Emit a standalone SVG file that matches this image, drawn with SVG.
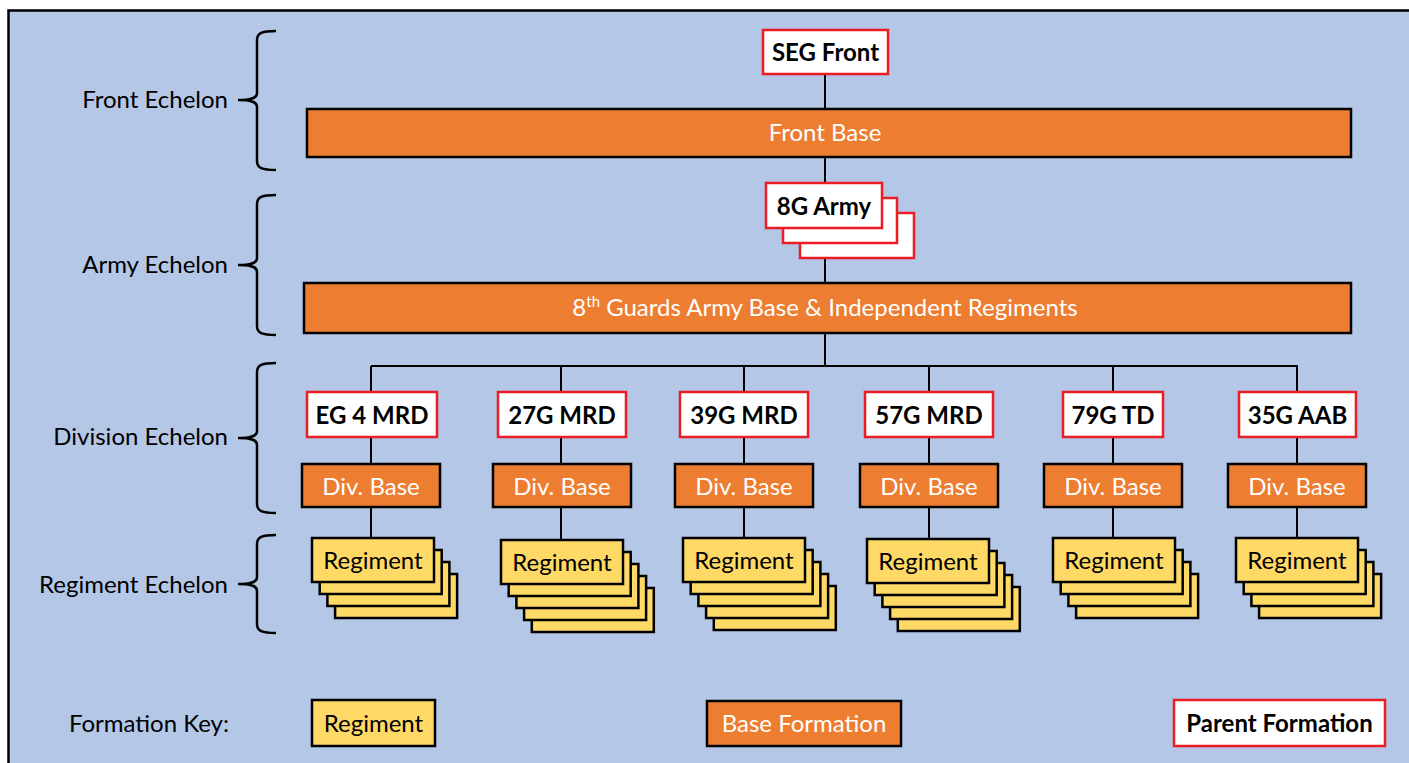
<svg xmlns="http://www.w3.org/2000/svg" width="1409" height="763" viewBox="0 0 1409 763">
<style>
text{font-family:Lato,"Open Sans","Liberation Sans",sans-serif;font-size:24px;}
.lbl{text-anchor:end;fill:#000;}
.c{text-anchor:middle;}
.w{fill:#fff;}
.b{font-weight:bold;fill:#000;}
.parent{fill:#fff;stroke:#EB1C24;stroke-width:2.5;}
.base{fill:#ED7D31;stroke:#000;stroke-width:2.5;}
.reg{fill:#FFD966;stroke:#000;stroke-width:2.5;}
.brace{fill:none;stroke:#000;stroke-width:2.5;}
.conn{fill:none;stroke:#000;stroke-width:2;}
</style>
<rect x="0" y="0" width="1409" height="763" fill="#fff"/>
<rect x="8.5" y="10.5" width="1420" height="780" fill="#B4C7E7" stroke="#000" stroke-width="2.5"/>

<g id="braces">
<path class="brace" d="M276,31 C262,31 257,33 257,40 L257,93 C257,97 254,100 238,100 C254,100 257,103 257,107 L257,161 C257,168 262,170 276,170"/>
<path class="brace" d="M276,195 C262,195 257,197 257,204 L257,258 C257,262 254,265 238,265 C254,265 257,268 257,272 L257,326 C257,333 262,335 276,335"/>
<path class="brace" d="M276,363 C262,363 257,365 257,372 L257,431 C257,435 254,438 238,438 C254,438 257,441 257,445 L257,504 C257,511 262,513 276,513"/>
<path class="brace" d="M276,535 C262,535 257,537 257,544 L257,577 C257,581 254,584 238,584 C254,584 257,587 257,591 L257,624 C257,631 262,633 276,633"/>
</g>
<g id="labels">
<text class="lbl" x="228" y="108">Front Echelon</text>
<text class="lbl" x="228" y="273">Army Echelon</text>
<text class="lbl" x="228" y="445">Division Echelon</text>
<text class="lbl" x="228" y="593">Regiment Echelon</text>
</g>

<g id="connectors">
<path class="conn" d="M825,74 V109 M825,157 V183 M825,258 V283 M825,333 V366 M371,366 H1298"/>
<path class="conn" d="M371,366 V392 M371,437 V464 M371,507 V538"/>
<path class="conn" d="M561,366 V392 M561,437 V464 M561,507 V540"/>
<path class="conn" d="M744,366 V392 M744,437 V464 M744,507 V538"/>
<path class="conn" d="M929,366 V392 M929,437 V464 M929,507 V539"/>
<path class="conn" d="M1113,366 V392 M1113,437 V464 M1113,507 V538"/>
<path class="conn" d="M1297,366 V392 M1297,437 V464 M1297,507 V538"/>
</g>

<g id="seg-front">
<rect class="parent" x="763" y="30" width="125" height="44"/>
<text class="c b" x="825.5" y="61">SEG Front</text>
</g>
<g id="front-base">
<rect class="base" x="307" y="109" width="1044" height="48"/>
<text class="c w" x="825" y="141">Front Base</text>
</g>
<g id="army-8g">
<rect class="parent" x="800" y="213" width="114" height="45"/>
<rect class="parent" x="783" y="198" width="114" height="45"/>
<rect class="parent" x="766" y="183" width="116" height="45"/>
<text class="c b" x="824" y="215">8G Army</text>
</g>
<g id="army-base">
<rect class="base" x="304" y="283" width="1047" height="50"/>
<text class="c w" x="825" y="316">8<tspan font-size="15" dy="-9">th</tspan><tspan dy="9"> Guards Army Base &amp; Independent Regiments</tspan></text>
</g>

<g id="div-eg4">
<rect class="parent" x="307" y="392" width="130" height="45"/>
<text class="c b" x="372" y="424">EG 4 MRD</text>
</g>
<g id="div-27g">
<rect class="parent" x="498" y="392" width="128" height="45"/>
<text class="c b" x="562" y="424">27G MRD</text>
</g>
<g id="div-39g">
<rect class="parent" x="680" y="392" width="128" height="45"/>
<text class="c b" x="744" y="424">39G MRD</text>
</g>
<g id="div-57g">
<rect class="parent" x="865" y="392" width="128" height="45"/>
<text class="c b" x="929" y="424">57G MRD</text>
</g>
<g id="div-79g">
<rect class="parent" x="1063" y="392" width="100" height="45"/>
<text class="c b" x="1113" y="424">79G TD</text>
</g>
<g id="div-35g">
<rect class="parent" x="1239" y="392" width="117" height="45"/>
<text class="c b" x="1297.5" y="424">35G AAB</text>
</g>

<g id="base-eg4"><rect class="base" x="302" y="464" width="138" height="43"/><text class="c w" x="371" y="495">Div. Base</text></g>
<g id="base-27g"><rect class="base" x="493" y="464" width="138" height="43"/><text class="c w" x="562" y="495">Div. Base</text></g>
<g id="base-39g"><rect class="base" x="675" y="464" width="138" height="43"/><text class="c w" x="744" y="495">Div. Base</text></g>
<g id="base-57g"><rect class="base" x="860" y="464" width="138" height="43"/><text class="c w" x="929" y="495">Div. Base</text></g>
<g id="base-79g"><rect class="base" x="1044" y="464" width="138" height="43"/><text class="c w" x="1113" y="495">Div. Base</text></g>
<g id="base-35g"><rect class="base" x="1228" y="464" width="138" height="43"/><text class="c w" x="1297" y="495">Div. Base</text></g>

<g id="reg-eg4">
<rect class="reg" x="335.1" y="574" width="122" height="44"/>
<rect class="reg" x="327.4" y="562" width="122" height="44"/>
<rect class="reg" x="319.7" y="550" width="122" height="44"/>
<rect class="reg" x="312" y="538" width="122" height="44"/>
<text class="c" x="373" y="569">Regiment</text>
</g>
<g id="reg-27g">
<rect class="reg" x="531.8" y="588" width="122" height="44"/>
<rect class="reg" x="524.1" y="576" width="122" height="44"/>
<rect class="reg" x="516.4" y="564" width="122" height="44"/>
<rect class="reg" x="508.7" y="552" width="122" height="44"/>
<rect class="reg" x="501" y="540" width="122" height="44"/>
<text class="c" x="562" y="571">Regiment</text>
</g>
<g id="reg-39g">
<rect class="reg" x="713.8" y="586" width="122" height="44"/>
<rect class="reg" x="706.1" y="574" width="122" height="44"/>
<rect class="reg" x="698.4" y="562" width="122" height="44"/>
<rect class="reg" x="690.7" y="550" width="122" height="44"/>
<rect class="reg" x="683" y="538" width="122" height="44"/>
<text class="c" x="744" y="569">Regiment</text>
</g>
<g id="reg-57g">
<rect class="reg" x="897.8" y="587" width="122" height="44"/>
<rect class="reg" x="890.1" y="575" width="122" height="44"/>
<rect class="reg" x="882.4" y="563" width="122" height="44"/>
<rect class="reg" x="874.7" y="551" width="122" height="44"/>
<rect class="reg" x="867" y="539" width="122" height="44"/>
<text class="c" x="928" y="570">Regiment</text>
</g>
<g id="reg-79g">
<rect class="reg" x="1076.1" y="574" width="122" height="44"/>
<rect class="reg" x="1068.4" y="562" width="122" height="44"/>
<rect class="reg" x="1060.7" y="550" width="122" height="44"/>
<rect class="reg" x="1053" y="538" width="122" height="44"/>
<text class="c" x="1114" y="569">Regiment</text>
</g>
<g id="reg-35g">
<rect class="reg" x="1259.1" y="574" width="122" height="44"/>
<rect class="reg" x="1251.4" y="562" width="122" height="44"/>
<rect class="reg" x="1243.7" y="550" width="122" height="44"/>
<rect class="reg" x="1236" y="538" width="122" height="44"/>
<text class="c" x="1297" y="569">Regiment</text>
</g>

<g id="key">
<text class="lbl" x="229" y="732">Formation Key:</text>
<g id="key-regiment"><rect class="reg" x="312" y="700" width="123" height="46"/><text class="c" x="373.5" y="732">Regiment</text></g>
<g id="key-base"><rect class="base" x="707" y="701" width="194" height="45"/><text class="c w" x="804" y="732">Base Formation</text></g>
<g id="key-parent"><rect class="parent" x="1174" y="700" width="211" height="46"/><text class="c b" x="1279.5" y="732">Parent Formation</text></g>
</g>
</svg>
